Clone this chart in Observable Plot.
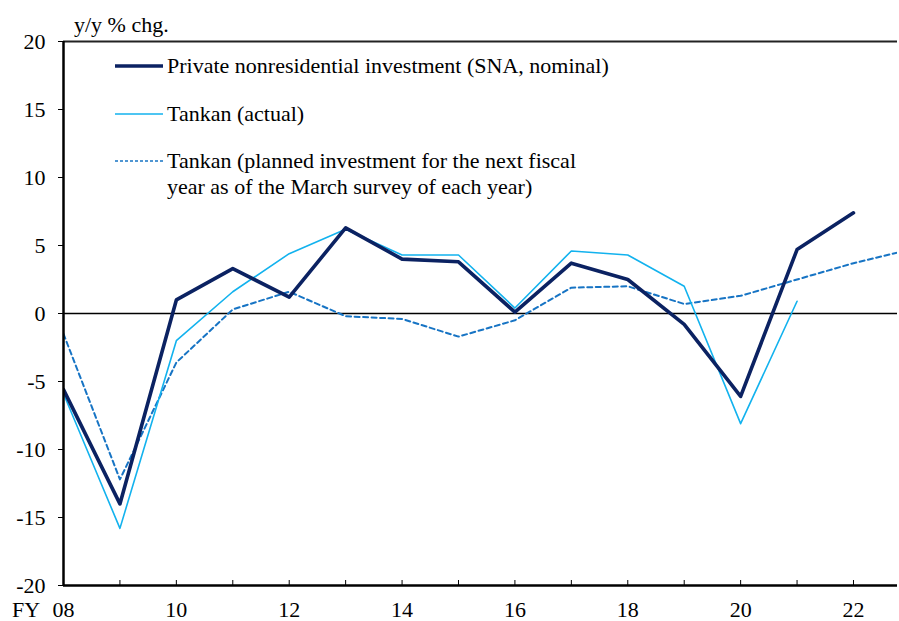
<!DOCTYPE html>
<html><head><meta charset="utf-8">
<script src="https://cdn.jsdelivr.net/npm/d3@7"></script>
<script src="https://cdn.jsdelivr.net/npm/@observablehq/plot@0.6"></script>
<style>
body{margin:0;background:#fff;}
#wrap{position:relative;width:899px;height:621px;font-family:"Liberation Serif","Times New Roman",serif;color:#000;overflow:hidden;}
.lbl{position:absolute;font-size:22px;white-space:nowrap;line-height:22px;}
.leg{position:absolute;left:115px;font-size:22px;line-height:26px;display:flex;align-items:flex-start;white-space:nowrap;}
.leg svg{flex:none;margin-right:4px;}
</style></head><body>
<div id="wrap"></div>
<script>
// ---- data ----
const years = [2008,2009,2010,2011,2012,2013,2014,2015,2016,2017,2018,2019,2020,2021,2022,2023];
const sna = [-5.6,-14.0,1.0,3.3,1.2,6.3,4.0,3.8,0.1,3.7,2.5,-0.8,-6.1,4.7,7.4,null];
const tankanActual = [-5.9,-15.8,-2.0,1.6,4.4,6.2,4.3,4.3,0.4,4.6,4.3,2.0,-8.1,0.9,null,null];
const tankanPlanned = [-1.5,-12.2,-3.6,0.3,1.6,-0.2,-0.4,-1.7,-0.5,1.9,2.0,0.7,1.3,2.5,3.7,4.7];
const yTicks = [-20,-15,-10,-5,0,5,10,15,20];
const tickYears = [2008,2009,2010,2011,2012,2013,2014,2015,2016,2017,2018,2019,2020,2021,2022];
const labelYears = [2008,2010,2012,2014,2016,2018,2020,2022];
const seriesNames = [
  "Private nonresidential investment (SNA, nominal)",
  "Tankan (actual)",
  "Tankan (planned investment for the next fiscal<br>year as of the March survey of each year)"
];
const colors = ["#0b2262", "#12b2ee", "#1774c4"];
const xDomain = [2008, 2022.78];
const yDomain = [-20, 20];

const rows = (vals) => years.map((y, i) => ({year: y, v: vals[i]}));

const chart = Plot.plot({
  width: 899,
  height: 621,
  marginLeft: 63,
  marginRight: 2,
  marginTop: 41,
  marginBottom: 36,
  style: {fontFamily: '"Liberation Serif","Times New Roman",serif', fontSize: "22px", background: "#fff", color: "#000", overflow: "visible"},
  x: {domain: xDomain},
  y: {domain: yDomain},
  marks: [
    Plot.ruleY([0], {stroke: "#000", strokeWidth: 1.6}),
    Plot.line(rows(tankanPlanned), {x: "year", y: "v", stroke: colors[2], strokeWidth: 2, strokeDasharray: "5,3.5", clip: true}),
    Plot.line(rows(tankanActual), {x: "year", y: "v", stroke: colors[1], strokeWidth: 1.6, clip: true}),
    Plot.line(rows(sna), {x: "year", y: "v", stroke: colors[0], strokeWidth: 3.6, strokeLinecap: "round", clip: true}),
    Plot.ruleY([yDomain[1]], {stroke: "#222", strokeWidth: 2}),
    Plot.ruleY([yDomain[0]], {stroke: "#000", strokeWidth: 2.5}),
    Plot.ruleX([xDomain[0]], {stroke: "#000", strokeWidth: 2.5}),
    Plot.axisY({ticks: yTicks, tickSize: 5, tickPadding: 13, label: null, tickFormat: d => String(d)}),
    Plot.axisX({ticks: tickYears, tickSize: -5, label: null, tickFormat: () => ""}),
    Plot.axisX({ticks: labelYears, tickSize: 0, tickPadding: 16, label: null, tickFormat: d => String(d % 100).padStart(2, "0")})
  ]
});

const wrap = document.getElementById("wrap");
wrap.appendChild(chart);

function addLabel(text, left, top) {
  const d = document.createElement("div");
  d.className = "lbl";
  d.style.left = left + "px";
  d.style.top = top + "px";
  d.textContent = text;
  wrap.appendChild(d);
}
addLabel("y/y % chg.", 74, 14);
addLabel("FY", 12, 599);

const legendTops = [53, 101, 148];
const legendStyles = [
  {w: 3.6, dash: null},
  {w: 1.6, dash: null},
  {w: 1.6, dash: "3,2"}
];
seriesNames.forEach((name, i) => {
  const d = document.createElement("div");
  d.className = "leg";
  d.style.top = legendTops[i] + "px";
  const s = legendStyles[i];
  d.innerHTML = `<svg width="48" height="26"><line x1="0" x2="48" y1="13" y2="13" stroke="${colors[i]}" stroke-width="${s.w}" ${s.dash ? `stroke-dasharray="${s.dash}"` : ""}/></svg><span>${name}</span>`;
  wrap.appendChild(d);
});
</script>
</body></html>
